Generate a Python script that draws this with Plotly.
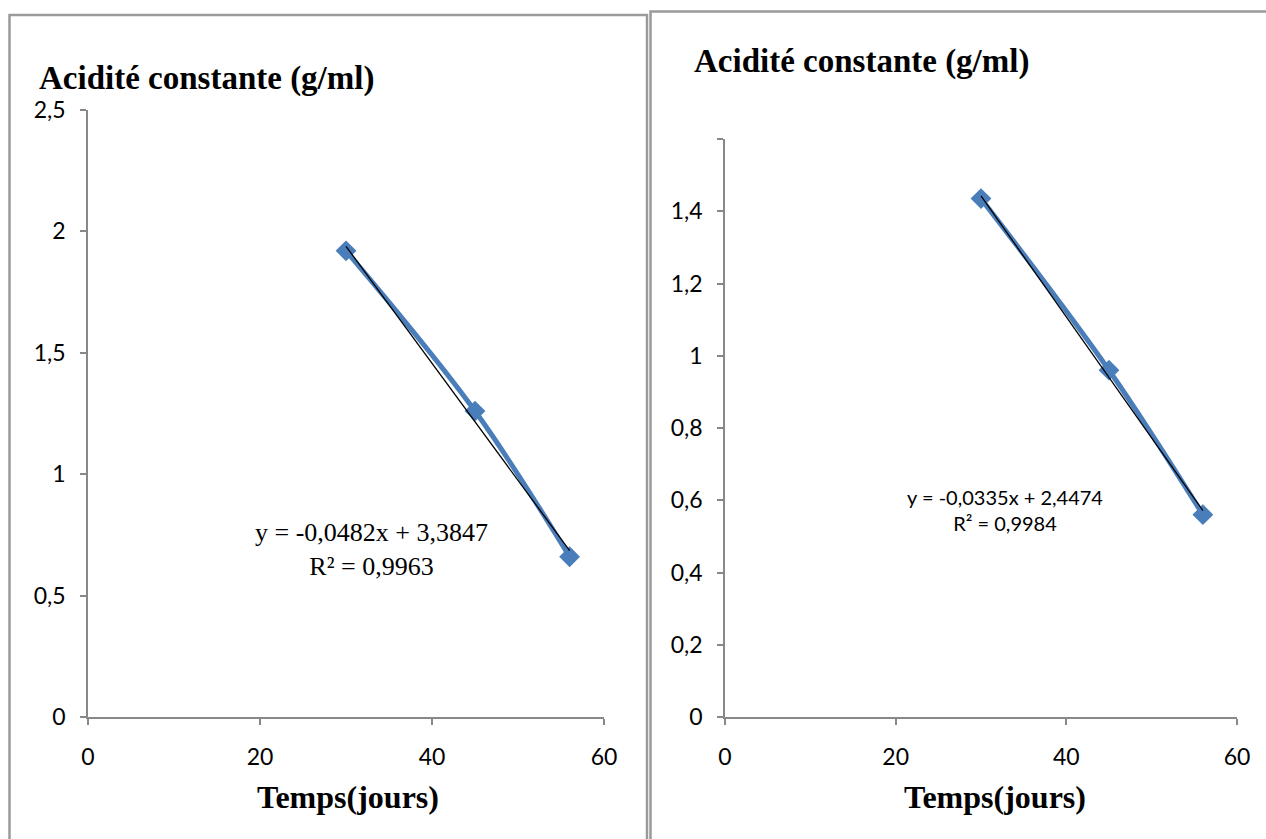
import plotly.graph_objects as go

W, H = 1266, 839

# ---------------- data ----------------
days = [30, 45, 56]
acid_left = [1.92, 1.26, 0.66]
acid_right = [1.435, 0.96, 0.56]

fit_left = (-0.0482, 3.3847)
fit_right = (-0.0335, 2.4474)
eq_left = ["y = -0,0482x + 3,3847", "R² = 0,9963"]
eq_right = ["y = -0,0335x + 2,4474", "R² = 0,9984"]

x_ticks = [0, 20, 40, 60]
x_ticktext = ["0", "20", "40", "60"]
yl_ticks = [0, 0.5, 1, 1.5, 2, 2.5]
yl_ticktext = ["0", "0,5", "1", "1,5", "2", "2,5"]
yr_ticks = [0, 0.2, 0.4, 0.6, 0.8, 1.0, 1.2, 1.4, 1.6]
yr_ticktext = ["0", "0,2", "0,4", "0,6", "0,8", "1", "1,2", "1,4", ""]

title_y = "Acidité constante (g/ml)"
title_x = "Temps(jours)"

BLUE = "#4A7EBB"
AXIS = "#888888"


def px(x):
    return x / W


def py(y):
    return 1 - y / H


fig = go.Figure()

tl_x = [days[0], days[-1]]

# Left chart
fig.add_trace(go.Scatter(x=days, y=acid_left, mode="lines+markers",
                         line=dict(color=BLUE, width=5, shape="spline"),
                         marker=dict(symbol="diamond", size=16, color=BLUE),
                         xaxis="x", yaxis="y", showlegend=False))
fig.add_trace(go.Scatter(x=tl_x, y=[fit_left[0] * v + fit_left[1] for v in tl_x], mode="lines",
                         line=dict(color="black", width=1.3), xaxis="x", yaxis="y", showlegend=False))

# Right chart
fig.add_trace(go.Scatter(x=days, y=acid_right, mode="lines+markers",
                         line=dict(color=BLUE, width=5, shape="spline"),
                         marker=dict(symbol="diamond", size=16, color=BLUE),
                         xaxis="x2", yaxis="y2", showlegend=False))
fig.add_trace(go.Scatter(x=tl_x, y=[fit_right[0] * v + fit_right[1] for v in tl_x], mode="lines",
                         line=dict(color="black", width=1.3), xaxis="x2", yaxis="y2", showlegend=False))

tickfont = dict(family="Lato, Open Sans, sans-serif", size=23, color="black")
common_x = dict(range=[0, 60], tickvals=x_ticks, ticktext=x_ticktext, showgrid=False, zeroline=False,
                showline=True, linecolor=AXIS, linewidth=1.5, ticks="outside", ticklen=6, tickcolor=AXIS,
                tickwidth=1.5, tickfont=tickfont, ticklabelstandoff=13, fixedrange=True, automargin=False)
common_y = dict(showgrid=False, zeroline=False, showline=True, linecolor=AXIS, linewidth=1.5, ticks="outside",
                ticklen=6, tickcolor=AXIS, tickwidth=1.5, tickfont=tickfont, ticklabelstandoff=10,
                fixedrange=True, automargin=False)

fig.update_layout(
    template="none",
    width=W, height=H, autosize=False, margin=dict(l=0, r=0, t=0, b=0, pad=0, autoexpand=False),
    paper_bgcolor="white", plot_bgcolor="white",
    xaxis=dict(domain=[px(88), px(604)], anchor="y", **common_x),
    yaxis=dict(domain=[py(717), py(110)], anchor="x", range=[0, 2.5], tickvals=yl_ticks,
               ticktext=yl_ticktext, **common_y),
    xaxis2=dict(domain=[px(725), px(1237)], anchor="y2", **common_x),
    yaxis2=dict(domain=[py(717), py(139)], anchor="x2", range=[0, 1.6], tickvals=yr_ticks,
                ticktext=yr_ticktext, **common_y),
)

# Panel borders
BORDER = "#9a9a9a"
fig.add_shape(type="rect", xref="paper", yref="paper", x0=px(9.5), x1=px(647), y0=py(H + 10), y1=py(15),
              line=dict(color=BORDER, width=2.5), layer="below")
fig.add_shape(type="rect", xref="paper", yref="paper", x0=px(650.5), x1=px(W + 10), y0=py(H + 10),
              y1=py(11.5), line=dict(color=BORDER, width=2.5), layer="below")

SERIF = "Liberation Serif, Times New Roman, serif"
serif_b = dict(family=SERIF, size=33, color="black")
serif_bx = dict(family=SERIF, size=32, color="black")

ann = [
    dict(text="<b>%s</b>" % title_y, x=px(37), y=py(78), xanchor="left", yanchor="middle", font=serif_b),
    dict(text="<b>%s</b>" % title_y, x=px(692), y=py(62), xanchor="left", yanchor="middle", font=serif_b),
    dict(text="<b>%s</b>" % title_x, x=px(348), y=py(797), xanchor="center", yanchor="middle", font=serif_bx),
    dict(text="<b>%s</b>" % title_x, x=px(995), y=py(797), xanchor="center", yanchor="middle", font=serif_bx),
    dict(text=eq_left[0] + "<br>" + eq_left[1], x=px(371), y=py(549), xanchor="center", yanchor="middle",
         align="center", font=dict(family=SERIF, size=26, color="black")),
    dict(text=eq_right[0] + "<br>" + eq_right[1], x=px(1005), y=py(510), xanchor="center", yanchor="middle",
         align="center", font=dict(family="Lato, Open Sans, sans-serif", size=20, color="black")),
]
for a in ann:
    fig.add_annotation(xref="paper", yref="paper", showarrow=False, **a)

fig.write_html("out.html")
